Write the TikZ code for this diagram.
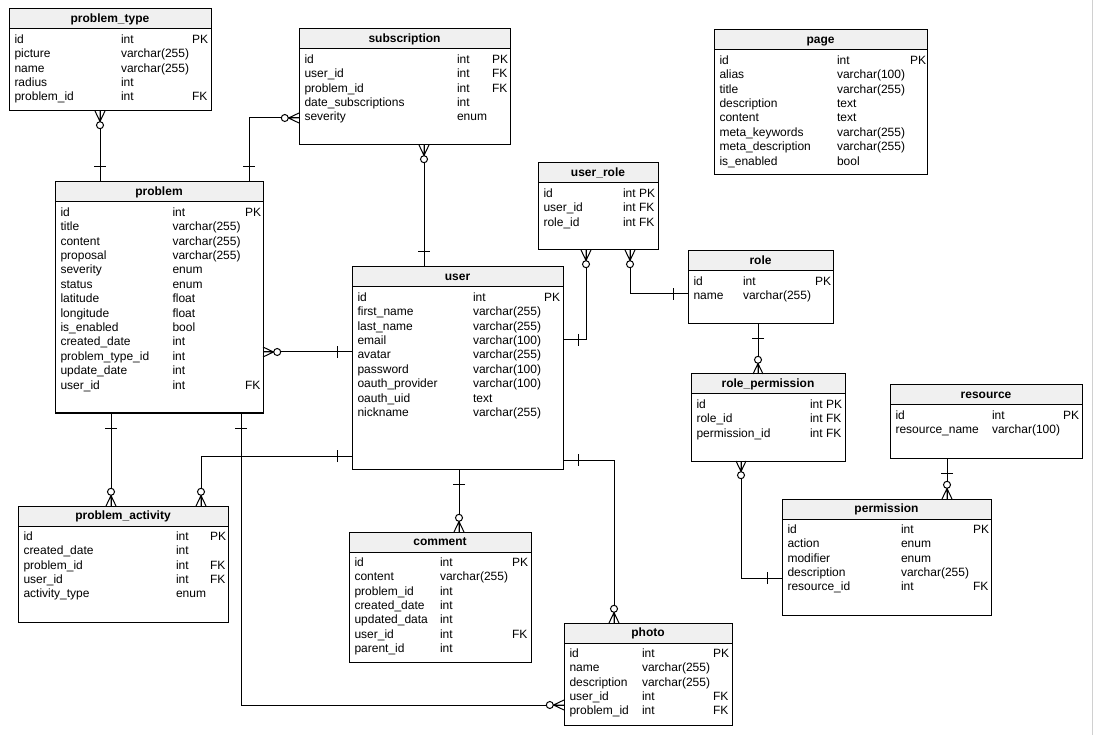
\documentclass[tikz,border=0pt]{standalone}
\usepackage{fontspec}
\setmainfont{Liberation Sans}
\definecolor{hdrgray}{HTML}{F0F0F0}
\definecolor{edgegray}{HTML}{D0D0D0}
\tikzset{
  ertbl/.style={draw=black, line width=1pt, fill=white, inner sep=0pt, outer sep=0pt, anchor=north west},
  erhdr/.style={draw=black, line width=1pt, fill=hdrgray, inner sep=0pt, outer sep=0pt, anchor=north west,
    minimum height=20pt, text height=9.5pt, text depth=2.5pt, font=\fontsize{12}{14.4}\selectfont\bfseries},
  ercell/.style={anchor=base west, inner sep=0pt, outer sep=0pt},
  erline/.style={draw=black, line width=1pt},
}
% #1 node name, #2 title, #3 x1, #4 y1, #5 x2, #6 y2, #7 type column x, #8 key column x, #9 rows
\newcommand{\ertable}[9]{%
  \node[ertbl, minimum width={#5-#3}, minimum height={#6-#4}] (#1) at (#3,#4) {};
  \node[erhdr, minimum width={#5-#3}] (#1-head) at (#3,#4) {#2};
  \foreach \fa/\fb/\fc [count=\ri from 0] in {#9} {
    \node[ercell] at ({#3+5.5},{#4+34.3+14.4*\ri}) {\fa};
    \node[ercell] at (#7,{#4+34.3+14.4*\ri}) {\fb};
    \node[ercell] at (#8,{#4+34.3+14.4*\ri}) {\fc};
  }%
}
% zero-or-many end: #1 coordinate name, #2 direction (away from the table)
\newcommand{\erzm}[2]{%
  \begin{scope}[shift={(#1)}, rotate=#2]
    \draw[erline] (0,-5) -- (10.5,0) -- (0,5) (0,0) -- (10.5,0);
    \draw[erline, fill=white] (14.2,0) circle[radius=3.5pt];
  \end{scope}}
% one end: single bar
\newcommand{\erone}[2]{%
  \begin{scope}[shift={(#1)}, rotate=#2]
    \draw[erline] (15,-6) -- (15,6);
  \end{scope}}
\begin{document}
\begin{tikzpicture}[x=1pt, y=-1pt, font=\fontsize{12}{14.4}\selectfont]
\useasboundingbox (0,0) rectangle (1093,735);
\fill[white] (0,0) rectangle (1093,735);
\draw[edgegray, line width=1pt] (1092,0) -- (1092,735);

% ---------- tables ----------
\ertable{problem_type}{problem\_type}{9}{9}{211}{111}{121}{192}{
  id/int/PK, picture/varchar(255)/, name/varchar(255)/, radius/int/, problem\_id/int/FK}
\ertable{subscription}{subscription}{299}{29}{510}{145}{457}{492}{
  id/int/PK, user\_id/int/FK, problem\_id/int/FK, date\_subscriptions/int/, severity/enum/}
\ertable{page}{page}{714}{30}{927}{175}{837}{910}{
  id/int/PK, alias/varchar(100)/, title/varchar(255)/, description/text/, content/text/,
  meta\_keywords/varchar(255)/, meta\_description/varchar(255)/, is\_enabled/bool/}
\ertable{user_role}{user\_role}{538}{163}{658}{250}{623}{641}{
  id/int PK/, user\_id/int FK/, role\_id/int FK/}
\ertable{problem}{problem}{55}{182}{263}{413}{172.5}{245}{
  id/int/PK, title/varchar(255)/, content/varchar(255)/, proposal/varchar(255)/, severity/enum/,
  status/enum/, latitude/float/, longitude/float/, is\_enabled/bool/, created\_date/int/,
  problem\_type\_id/int/, update\_date/int/, user\_id/int/FK}
\ertable{user}{user}{352}{267}{563}{469}{473}{544}{
  id/int/PK, first\_name/varchar(255)/, last\_name/varchar(255)/, email/varchar(100)/,
  avatar/varchar(255)/, password/varchar(100)/, oauth\_provider/varchar(100)/, oauth\_uid/text/,
  nickname/varchar(255)/}
\ertable{role}{role}{688}{251}{833}{324}{743}{815}{
  id/int/PK, name/varchar(255)/}
\ertable{role_permission}{role\_permission}{691}{374}{845}{461}{810}{830}{
  id/int PK/, role\_id/int FK/, permission\_id/int FK/}
\ertable{resource}{resource}{890}{385}{1082}{458}{992}{1063}{
  id/int/PK, resource\_name/varchar(100)/}
\ertable{permission}{permission}{782}{499}{991}{615}{901}{973}{
  id/int/PK, action/enum/, modifier/enum/, description/varchar(255)/, resource\_id/int/FK}
\ertable{problem_activity}{problem\_activity}{18}{506}{228}{622}{176}{210}{
  id/int/PK, created\_date/int/, problem\_id/int/FK, user\_id/int/FK, activity\_type/enum/}
\ertable{comment}{comment}{349}{532}{531}{662}{440}{512}{
  id/int/PK, content/varchar(255)/, problem\_id/int/, created\_date/int/, updated\_data/int/,
  user\_id/int/FK, parent\_id/int/}
\ertable{photo}{photo}{564}{623}{732}{725}{642}{713}{
  id/int/PK, name/varchar(255)/, description/varchar(255)/, user\_id/int/FK, problem\_id/int/FK}

% ---------- connector end points ----------
\coordinate (c1a) at ([xshift=91pt]problem_type.south west);
\coordinate (c1b) at ([xshift=45pt]problem.north west);
\coordinate (c2a) at ([yshift=-89pt]subscription.north west);
\coordinate (c2b) at ([xshift=194pt]problem.north west);
\coordinate (c3a) at ([xshift=125pt]subscription.south west);
\coordinate (c3b) at ([xshift=72pt]user.north west);
\coordinate (c4a) at ([xshift=48pt]user_role.south west);
\coordinate (c4b) at ([yshift=-73pt]user.north east);
\coordinate (c5a) at ([xshift=92pt]user_role.south west);
\coordinate (c5b) at ([yshift=-43pt]role.north west);
\coordinate (c6a) at ([xshift=70pt]role.south west);
\coordinate (c6b) at ([xshift=67pt]role_permission.north west);
\coordinate (c7a) at ([xshift=50pt]role_permission.south west);
\coordinate (c7b) at ([yshift=-79pt]permission.north west);
\coordinate (c8a) at ([xshift=57pt]resource.south west);
\coordinate (c8b) at ([xshift=165pt]permission.north west);
\coordinate (c9a) at ([yshift=-85pt]user.north west);
\coordinate (c9b) at ([yshift=-170pt]problem.north east);
\coordinate (c10a) at ([xshift=56pt]problem.south west);
\coordinate (c10b) at ([xshift=93pt]problem_activity.north west);
\coordinate (c11a) at ([yshift=-189pt]user.north west);
\coordinate (c11b) at ([xshift=183pt]problem_activity.north west);
\coordinate (c12a) at ([xshift=186pt]problem.south west);
\coordinate (c12b) at ([yshift=-82pt]photo.north west);
\coordinate (c13a) at ([xshift=107pt]user.south west);
\coordinate (c13b) at ([xshift=110pt]comment.north west);
\coordinate (c14a) at ([yshift=-193pt]user.north east);
\coordinate (c14b) at ([xshift=50pt]photo.north west);

% ---------- connectors ----------
\draw[erline] (c1a) -- (c1b);   \erzm{c1a}{-90}  \erone{c1b}{90}
\draw[erline] (c2a) -| (c2b);   \erzm{c2a}{180}  \erone{c2b}{90}
\draw[erline] (c3a) -- (c3b);   \erzm{c3a}{-90}  \erone{c3b}{90}
\draw[erline] (c4a) |- (c4b);   \erzm{c4a}{-90}  \erone{c4b}{0}
\draw[erline] (c5a) |- (c5b);   \erzm{c5a}{-90}  \erone{c5b}{180}
\draw[erline] (c6a) -- (c6b);   \erone{c6a}{-90} \erzm{c6b}{90}
\draw[erline] (c7a) |- (c7b);   \erzm{c7a}{-90}  \erone{c7b}{180}
\draw[erline] (c8a) -- (c8b);   \erone{c8a}{-90} \erzm{c8b}{90}
\draw[erline] (c9a) -- (c9b);   \erone{c9a}{180} \erzm{c9b}{0}
\draw[erline] (c10a) -- (c10b); \erone{c10a}{-90} \erzm{c10b}{90}
\draw[erline] (c11a) -| (c11b); \erone{c11a}{180} \erzm{c11b}{90}
\draw[erline] (c12a) |- (c12b); \erone{c12a}{-90} \erzm{c12b}{180}
\draw[erline] (c13a) -- (c13b); \erone{c13a}{-90} \erzm{c13b}{90}
\draw[erline] (c14a) -| (c14b); \erone{c14a}{0}  \erzm{c14b}{90}
\end{tikzpicture}
\end{document}
